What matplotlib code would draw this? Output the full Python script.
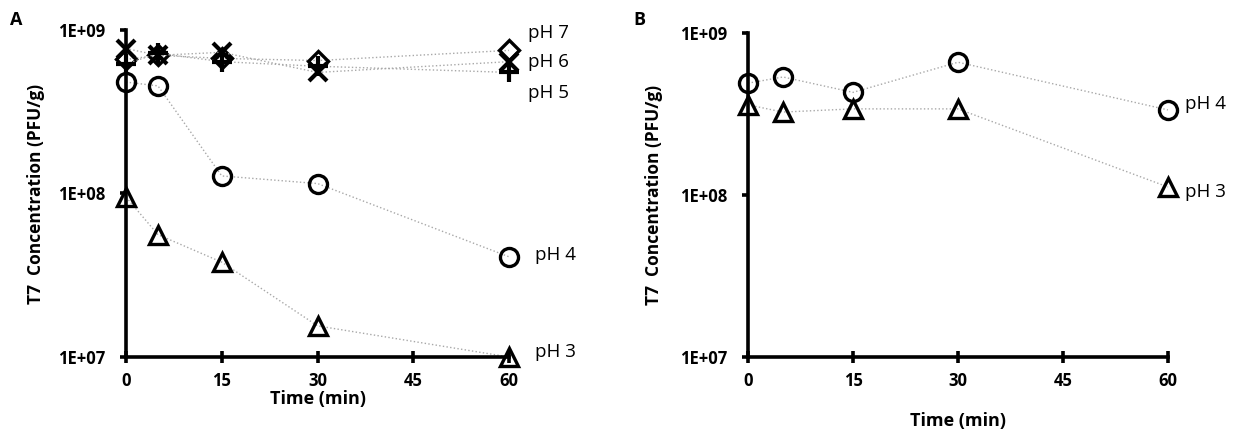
import matplotlib
matplotlib.use("Agg")
import matplotlib.pyplot as plt
from matplotlib.ticker import FixedLocator, NullLocator

plt.rcParams['font.family'] = ['Open Sans', 'DejaVu Sans']

time = [0, 5, 15, 30, 60]
xticks = [0, 15, 30, 45, 60]
yticks = [1e7, 1e8, 1e9]
ytick_labels = ["1E+07", "1E+08", "1E+09"]

# Panel A
a_ph3 = [9.5e7, 5.6e7, 3.8e7, 1.55e7, 1.0e7]
a_ph4 = [4.8e8, 4.55e8, 1.28e8, 1.15e8, 4.1e7]
a_ph5 = [6.2e8, 7.2e8, 6.4e8, 6.0e8, 5.5e8]
a_ph6 = [7.7e8, 7.0e8, 7.3e8, 5.5e8, 6.4e8]
a_ph7 = [6.6e8, 7.0e8, 6.7e8, 6.5e8, 7.5e8]

# Panel B
b_ph3 = [3.6e8, 3.25e8, 3.4e8, 3.4e8, 1.12e8]
b_ph4 = [4.9e8, 5.35e8, 4.3e8, 6.6e8, 3.35e8]

fig = plt.figure(figsize=(12.37, 4.30), dpi=100)
axA = fig.add_axes([0.1019, 0.1698, 0.3096, 0.7605])
axB = fig.add_axes([0.6047, 0.1698, 0.3395, 0.7535])

line_kw = dict(color='#a8a8a8', linestyle=':', linewidth=1.0, clip_on=False)

def mk(marker, size=13, ew=2.4, fill='none'):
    return dict(marker=marker, markersize=size, markeredgewidth=ew,
                markeredgecolor='black', markerfacecolor=fill)

def style(ax, xlabel_pad, ylabel_pad):
    ax.set_yscale('log')
    ax.set_xlim(0, 60)
    ax.set_ylim(1e7, 1e9)
    for s in ['top', 'right']:
        ax.spines[s].set_visible(False)
    for s in ['left', 'bottom']:
        ax.spines[s].set_linewidth(2.6)
    ax.yaxis.set_major_locator(FixedLocator(yticks))
    ax.yaxis.set_minor_locator(NullLocator())
    ax.set_yticklabels(ytick_labels)
    ax.set_xticks(xticks)
    ax.set_xticklabels([str(t) for t in xticks])
    ax.tick_params(axis='y', direction='out', length=4, width=2.6, labelsize=12, pad=11)
    ax.tick_params(axis='x', direction='inout', length=8, width=2.6, labelsize=12, pad=7)
    for lab in ax.get_xticklabels() + ax.get_yticklabels():
        lab.set_fontweight('bold')
    ax.set_ylabel("T7  Concentration (PFU/g)", fontsize=12.5, fontweight='bold', labelpad=ylabel_pad)
    ax.set_xlabel("Time (min)", fontsize=13, fontweight='bold', labelpad=xlabel_pad)

# Panel A drawing
axA.plot(time, a_ph7, **line_kw, **mk('D', 10))
axA.plot(time, a_ph6, **line_kw, **mk('x', 13, 3.0))
axA.plot(time, a_ph5, **line_kw, **mk('+', 15, 3.0))
axA.plot(time, a_ph4, **line_kw, **mk('o', 13))
axA.plot(time, a_ph3, **line_kw, **mk('^', 13))
style(axA, 0, 9)

axA.text(63.0, 9.6e8, "pH 7", fontsize=13.5, va='center', ha='left')
axA.text(63.0, 6.4e8, "pH 6", fontsize=13.5, va='center', ha='left')
axA.text(63.0, 4.1e8, "pH 5", fontsize=13.5, va='center', ha='left')
axA.text(64.0, 4.2e7, "pH 4", fontsize=13.5, va='center', ha='left')
axA.text(64.0, 1.07e7, "pH 3", fontsize=13.5, va='center', ha='left')

# Panel B drawing
axB.plot(time, b_ph4, **line_kw, **mk('o', 13))
axB.plot(time, b_ph3, **line_kw, **mk('^', 13))
style(axB, 16, 12)
axB.text(62.5, 3.65e8, "pH 4", fontsize=13.5, va='center', ha='left')
axB.text(62.5, 1.05e8, "pH 3", fontsize=13.5, va='center', ha='left')

fig.text(10/1237, 1 - 20/430, "A", fontsize=13, fontweight='bold', va='center')
fig.text(633/1237, 1 - 20/430, "B", fontsize=13, fontweight='bold', va='center')

fig.savefig("out.png", dpi=100, facecolor='white')
